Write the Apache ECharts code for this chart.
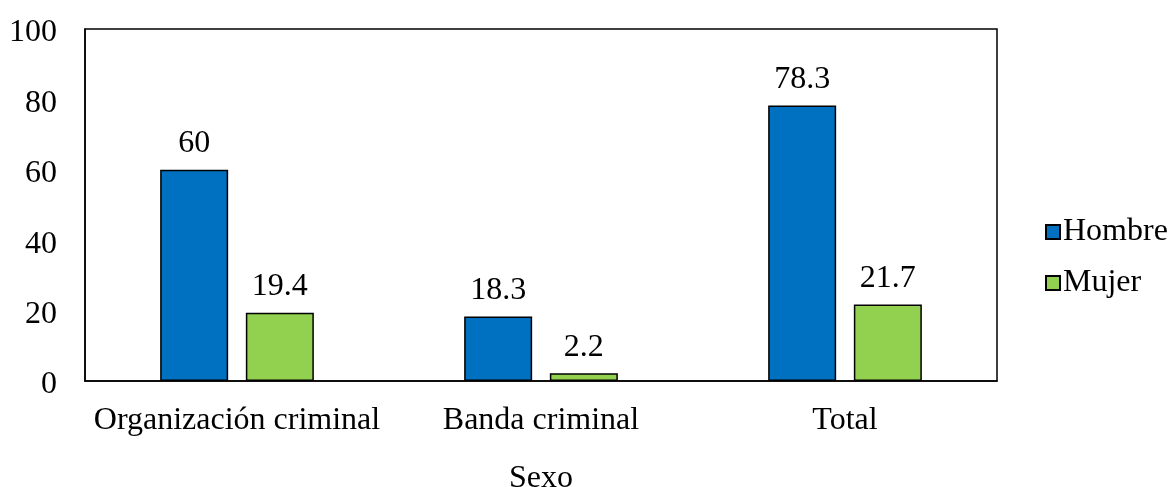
<!DOCTYPE html>
<html>
<head>
<meta charset="utf-8">
<script src="https://cdn.jsdelivr.net/npm/echarts@6/dist/echarts.min.js"></script>
<style>
  html, body { margin: 0; padding: 0; background: #fff; }
  #chart { width: 1170px; height: 487px; }
</style>
</head>
<body>
<div id="chart"></div>
<script>
var categories = ['Organización criminal', 'Banda criminal', 'Total'];
var hombre = [60, 18.3, 78.3];
var mujer = [19.4, 2.2, 21.7];

var font = '"Liberation Serif", "Times New Roman", serif';
var chart = echarts.init(document.getElementById('chart'));
var barLabel = {
    show: true,
    position: 'top',
    distance: 10,
    color: '#000',
    fontFamily: font,
    fontSize: 32
};
chart.setOption({
    animation: false,
    textStyle: { fontFamily: font },
    grid: {
        left: 85, right: 173, top: 29, bottom: 106,
        show: true, borderColor: '#000', borderWidth: 1.5,
        containLabel: false,
        outerBoundsMode: 'none'
    },
    legend: {
        orient: 'vertical',
        left: 1040, top: 211,
        icon: 'rect',
        itemWidth: 14, itemHeight: 14, itemGap: 19,
        textStyle: { fontFamily: font, fontSize: 32, color: '#000', padding: [0, 0, 0, -2] },
        data: ['Hombre', 'Mujer']
    },
    xAxis: {
        type: 'category',
        data: categories,
        name: 'Sexo',
        nameLocation: 'middle',
        nameGap: 82,
        nameTextStyle: { fontFamily: font, fontSize: 32, color: '#000' },
        axisLine: { lineStyle: { color: '#000', width: 1.5 } },
        axisTick: { show: false },
        axisLabel: { interval: 0, fontFamily: font, fontSize: 32, color: '#000', margin: 24 }
    },
    yAxis: {
        type: 'value',
        min: 0, max: 100, interval: 20,
        splitLine: { show: false },
        axisLine: { show: true, lineStyle: { color: '#000', width: 1.5 } },
        axisTick: { show: false },
        axisLabel: {
            margin: 28,
            formatter: '{v|{value}}',
            rich: { v: { fontFamily: font, fontSize: 32, color: '#000', padding: [8, 0, 0, 0] } }
        }
    },
    series: [
        {
            name: 'Hombre', type: 'bar', data: hombre,
            barWidth: 68, barGap: '26%',
            itemStyle: { color: '#0070C0', borderColor: '#000', borderWidth: 1.5 },
            label: barLabel
        },
        {
            name: 'Mujer', type: 'bar', data: mujer,
            barWidth: 68,
            itemStyle: { color: '#92D050', borderColor: '#000', borderWidth: 1.5 },
            label: barLabel
        }
    ]
});
</script>
</body>
</html>
